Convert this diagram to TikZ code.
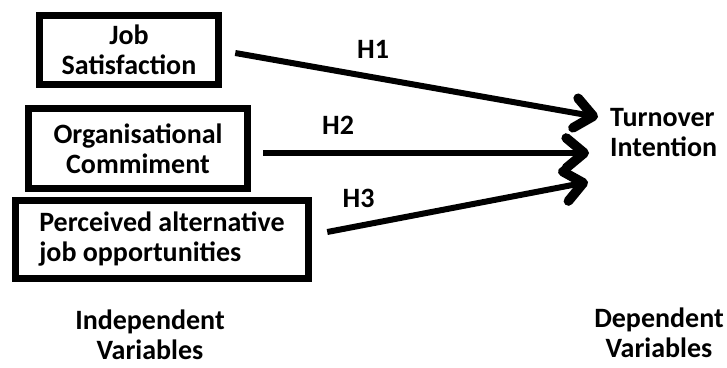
\documentclass[tikz,border=0pt]{standalone}
\usepackage{fontspec}
\setmainfont{Carlito}
\usepackage{tikz}
\usetikzlibrary{positioning}
\usetikzlibrary{arrows.meta}

\begin{document}
\begin{tikzpicture}[x=1pt, y=-1pt,
  varbox/.style={draw, line width=7.5pt, inner sep=0pt, font=\bfseries\fontsize{28}{30}\selectfont},
  caption/.style={font=\bfseries\fontsize{28}{30}\selectfont, inner sep=0pt},
  hyp/.style={line width=6pt, -{Straight Barb[length=18pt, width=30pt, line width=0pt 1.6, round]}},
  hyplabel/.style={font=\bfseries\fontsize{28}{30}\selectfont, above=12pt}]
\useasboundingbox (0,0) rectangle (727,367);

% independent variables
\node [varbox, align=center, minimum width=179pt, minimum height=69pt] (js) at (129,50) {Job\\Satisfaction};
\node [varbox, align=center, minimum width=219pt, minimum height=80pt] (oc) at (138,148.5) {Organisational\\Commiment};
\node [varbox, align=left, minimum width=293pt, minimum height=78pt] (pa) at (162,239.5) {Perceived alternative\\job opportunities};

% dependent variable
\node [caption, align=left, anchor=west] (ti) at (610,133) {Turnover\\Intention};

\node [caption, align=center] (iv) at (150,335) {Independent\\Variables};
\node [caption, align=center] (dv) at (659,333) {Dependent\\Variables};

\draw [hyp] ([shift={(13,3)}]js.east) -- ([shift={(-12,-16)}]ti.west) node [hyplabel, pos=0.38] {H1};
\draw [hyp] ([shift={(12,4.5)}]oc.east) -- ([shift={(-21,20)}]ti.west) node [hyplabel, pos=0.23] {H2};
\draw [hyp] ([shift={(15,-7.5)}]pa.east) -- ([shift={(-22,49)}]ti.west) node [hyplabel, pos=0.12] {H3};
\end{tikzpicture}
\end{document}
